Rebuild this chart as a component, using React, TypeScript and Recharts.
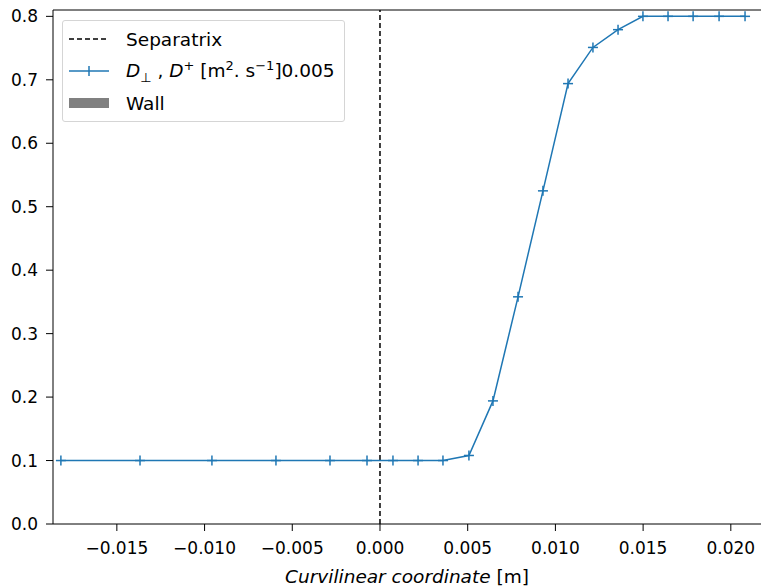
import React from 'react';
import { LineChart, Line, XAxis, YAxis, ReferenceLine } from 'recharts';

// curvilinear coordinate [m]
const coords = [
  -0.01819, -0.01368, -0.00958, -0.00593, -0.00285, -0.00074, 0.00074, 0.00217, 0.00359,
  0.00507, 0.00644, 0.00787, 0.00929, 0.01072, 0.01214, 0.01357, 0.01499, 0.01642,
  0.01785, 0.01933, 0.02081,
];
// D_perp, D+ values
const diffusion = [
  0.1, 0.1, 0.1, 0.1, 0.1, 0.1, 0.1, 0.1, 0.1,
  0.108, 0.194, 0.358, 0.525, 0.694, 0.751, 0.779, 0.8, 0.8,
  0.8, 0.8, 0.8,
];
const xTicks = [-0.015, -0.01, -0.005, 0, 0.005, 0.01, 0.015, 0.02];
const yTicks = [0, 0.1, 0.2, 0.3, 0.4, 0.5, 0.6, 0.7, 0.8];

const X_MIN = -0.01864;
const X_MAX = 0.02172;
const Y_MIN = 0;
const Y_MAX = 0.81;

const data = coords.map((x, i) => ({ x, d: diffusion[i] }));

const BLUE = '#1f77b4';
const FONT = 'DejaVu Sans, sans-serif';

const fmtX = (v: number) => (v < 0 ? '\u2212' + Math.abs(v).toFixed(3) : v.toFixed(3));

const PlusDot = (props: any) => {
  const { cx, cy } = props;
  if (cx == null || cy == null) return null;
  return (
    <g>
      <line x1={cx - 5} y1={cy} x2={cx + 5} y2={cy} stroke={BLUE} strokeWidth={1.5} />
      <line x1={cx} y1={cy - 5} x2={cx} y2={cy + 5} stroke={BLUE} strokeWidth={1.5} />
    </g>
  );
};

const small = { fontSize: 13 };

const LegendBox = () => (
  <div
    style={{
      position: 'absolute',
      left: 62,
      top: 20,
      border: '1px solid #d5d5d5',
      borderRadius: 3,
      background: 'rgba(255,255,255,0.8)',
      padding: '2px 8px 2px 6px',
      fontFamily: FONT,
      fontSize: 18.5,
      color: '#000',
      width: 267,
      boxSizing: 'content-box',
    }}
  >
    <div style={{ display: 'flex', alignItems: 'center', height: 32 }}>
      <svg width={57} height={12}>
        <line x1={0} y1={6} x2={40} y2={6} stroke="#000" strokeWidth={1.5} strokeDasharray="5 3" />
      </svg>
      <span>Separatrix</span>
    </div>
    <div style={{ display: 'flex', alignItems: 'center', height: 32 }}>
      <svg width={57} height={12}>
        <line x1={0} y1={6} x2={40} y2={6} stroke={BLUE} strokeWidth={1.5} />
        <line x1={20} y1={1} x2={20} y2={11} stroke={BLUE} strokeWidth={1.5} />
      </svg>
      <span style={{ whiteSpace: 'nowrap' }}>
        <i>D</i>
        <sub style={small}>⊥</sub> , <i>D</i>
        <sup style={small}>+</sup> [m<sup style={small}>2</sup>. s
        <sup style={small}>−1</sup>]0.005
      </span>
    </div>
    <div style={{ display: 'flex', alignItems: 'center', height: 32 }}>
      <svg width={57} height={12}>
        <rect x={0} y={1} width={40} height={10} fill="#808080" />
      </svg>
      <span>Wall</span>
    </div>
  </div>
);

const XLabel = (props: any) => {
  const { viewBox } = props;
  const cx = viewBox.x + viewBox.width / 2;
  return (
    <text x={cx} y={583} textAnchor="middle" fontFamily={FONT} fontSize={18.5} fill="#000">
      <tspan fontStyle="italic">Curvilinear coordinate</tspan>
      <tspan> [m]</tspan>
    </text>
  );
};

export default function App() {
  return (
    <div style={{ position: 'relative', width: 761, height: 586 }}>
      <style>{'body{margin:0}'}</style>
      <LineChart width={761} height={586} data={data} margin={{ top: 10, right: 0, left: 0, bottom: 0 }}>
        <XAxis
          dataKey="x"
          type="number"
          domain={[X_MIN, X_MAX]}
          ticks={xTicks}
          tickFormatter={fmtX}
          allowDataOverflow
          height={62}
          tickSize={7}
          tickMargin={11}
          stroke="#000"
          tick={{ fill: '#000', fontFamily: FONT, fontSize: 17 }}
          label={<XLabel />}
        />
        <YAxis
          type="number"
          domain={[Y_MIN, Y_MAX]}
          ticks={yTicks}
          tickFormatter={(v: number) => v.toFixed(1)}
          allowDataOverflow
          width={53}
          tickSize={7}
          tickMargin={8}
          stroke="#000"
          tick={{ fill: '#000', fontFamily: FONT, fontSize: 17 }}
        />
        <ReferenceLine y={Y_MAX} stroke="#000" strokeWidth={1} />
        <ReferenceLine x={0} stroke="#000" strokeWidth={1.5} strokeDasharray="5 3" />
        <Line
          type="linear"
          dataKey="d"
          stroke={BLUE}
          strokeWidth={1.5}
          dot={<PlusDot />}
          activeDot={false}
          isAnimationActive={false}
        />
      </LineChart>
      <LegendBox />
    </div>
  );
}
